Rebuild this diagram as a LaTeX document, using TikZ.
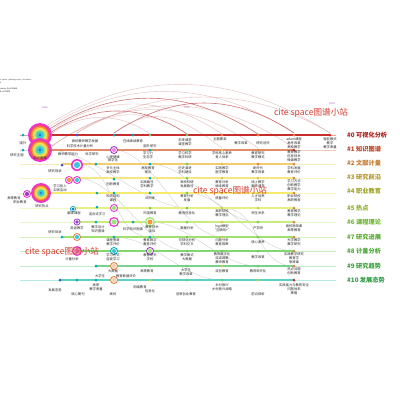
\documentclass[tikz,border=0pt]{standalone}
\usepackage{fontspec}
\newfontfamily\cjk{Noto Sans CJK SC}
\usetikzlibrary{calc}
\definecolor{c0}{RGB}{200,45,45}
\definecolor{c1}{RGB}{225,140,100}
\definecolor{c2}{RGB}{240,205,110}
\definecolor{c3}{RGB}{245,230,130}
\definecolor{c4}{RGB}{245,235,110}
\definecolor{c5}{RGB}{230,240,130}
\definecolor{c6}{RGB}{200,235,130}
\definecolor{c7}{RGB}{160,225,110}
\definecolor{c8}{RGB}{130,215,110}
\definecolor{c9}{RGB}{120,210,140}
\definecolor{c10}{RGB}{90,210,200}
\definecolor{t0}{RGB}{170,30,30}
\definecolor{t1}{RGB}{185,70,40}
\definecolor{t2}{RGB}{195,120,40}
\definecolor{t3}{RGB}{180,150,40}
\definecolor{t4}{RGB}{160,165,40}
\definecolor{t5}{RGB}{140,175,40}
\definecolor{t6}{RGB}{110,180,50}
\definecolor{t7}{RGB}{90,170,50}
\definecolor{t8}{RGB}{70,165,50}
\definecolor{t9}{RGB}{60,160,60}
\definecolor{t10}{RGB}{50,155,70}
\definecolor{yblue}{RGB}{70,80,210}
\definecolor{yteal}{RGB}{0,170,190}
\definecolor{ygreen}{RGB}{120,200,110}
\definecolor{yyel}{RGB}{215,200,80}
\definecolor{yorg}{RGB}{230,130,60}
\definecolor{yred}{RGB}{210,40,40}
\definecolor{ypur}{RGB}{160,60,200}
\definecolor{rM}{RGB}{235,50,210}
\definecolor{rR}{RGB}{240,80,100}
\definecolor{rO}{RGB}{250,150,60}
\definecolor{rY}{RGB}{250,220,80}
\definecolor{rG}{RGB}{150,230,120}
\definecolor{rC}{RGB}{60,200,220}
\definecolor{rB}{RGB}{30,120,200}
\definecolor{arcc}{RGB}{215,150,150}
\definecolor{arcd}{RGB}{185,60,60}
\definecolor{wmc}{RGB}{215,60,50}
\definecolor{yrc}{RGB}{170,80,200}
\tikzset{
 lbl/.style={font=\cjk\fontsize{3.3}{3.8}\selectfont, text=black!85, align=center, inner sep=0pt},
 rowlbl/.style={font=\cjk\bfseries\fontsize{6.2}{7}\selectfont, anchor=west, inner sep=0pt},
 dotn/.style={circle, inner sep=0pt, minimum size=3pt, draw=none},
 arcA/.style={line width=0.45pt, draw=arcc, opacity=0.6},
 arcB/.style={line width=0.6pt, draw=arcd, opacity=0.7},
 faint/.style={line width=0.4pt, draw=black!30, opacity=0.6},
 tline/.style={line width=1.3pt},
 wm/.style={font=\cjk\fontsize{8.6}{9}\selectfont, text=wmc, inner sep=0pt},
 yr/.style={font=\sffamily\fontsize{2.6}{3}\selectfont, text=yrc, inner sep=0pt},
 hdr/.style={font=\sffamily\fontsize{2.2}{2.6}\selectfont, text=black!70, anchor=west, inner sep=0pt},
}
\newcommand\dt[4]{\node[dotn,fill=#4] (#1) at (#2,#3) {};}
\newcommand\sring[6]{\coordinate (#1) at (#2,#3);
 \fill[#5] (#1) circle (#4); \fill[white] (#1) circle ({0.72*#4}); \fill[#6] (#1) circle ({0.52*#4});}
\newcommand\treering[4]{\coordinate (#1) at (#2,#3);
 \fill[rM] (#1) circle (#4); \fill[rR] (#1) circle ({0.84*#4});
 \fill[rO] (#1) circle ({0.72*#4}); \fill[rY] (#1) circle ({0.6*#4});
 \fill[rG] (#1) circle ({0.46*#4}); \fill[rC] (#1) circle ({0.32*#4});
 \fill[rB] (#1) circle ({0.12*#4});}
\newcommand\arcp[5]{\draw[#5] (#1) .. controls ($(#1)+(#3,-#4)$) and ($(#2)+(-#3,-#4)$) .. (#2);}
\newcommand\scurve[2]{\draw[faint] (#1) .. controls ($(#1)+(40,0)$) and ($(#2)+(-40,0)$) .. (#2);}
\begin{document}
\begin{tikzpicture}[x=1pt,y=-1pt]
\useasboundingbox (0,0) rectangle (400,400);
\fill[white] (0,0) rectangle (400,400);
% header
\node[hdr] (h1) at (0,80) {s space (photography) Academy};
\node[hdr] (h2) at (0,82.6) {0};
\node[hdr,font=\sffamily\bfseries\fontsize{2.2}{2.6}\selectfont] (h3) at (0,89) {rlarity Q=0.8669};
\node[hdr,font=\sffamily\bfseries\fontsize{2.2}{2.6}\selectfont] (h4) at (0,91.6) {S=0.9429};
% years
\node[yr] (y1) at (45,108) {2016};
\node[yr] (y2) at (187,108) {2020};
\node[yr] (y3) at (332,104) {2024};
% arc endpoints
\coordinate (a0) at (46,126); \coordinate (a1) at (47,128); \coordinate (a2) at (48,130);
\coordinate (a3) at (50,131); \coordinate (a4) at (50,133); \coordinate (a5) at (51,134);
\coordinate (a6) at (77,133); \coordinate (a7) at (114,133); \coordinate (a8) at (52,146);
\coordinate (e330) at (330,133); \coordinate (e294) at (294,133); \coordinate (e258) at (258,134);
\coordinate (e222) at (222,134); \coordinate (e187) at (187,134); \coordinate (e150) at (150,134);
\coordinate (e294b) at (294,148); \coordinate (e258b) at (258,148); \coordinate (e222b) at (222,148);
\arcp{a0}{e330}{95}{60}{arcA}
\arcp{a1}{e294}{80}{52}{arcA}
\arcp{a2}{e258}{70}{45}{arcB}
\arcp{a3}{e222}{55}{38}{arcA}
\arcp{a4}{e187}{45}{30}{arcB}
\arcp{a5}{e150}{30}{22}{arcA}
\arcp{a6}{e330}{80}{48}{arcA}
\arcp{a7}{e294}{60}{40}{arcB}
\arcp{a8}{e258b}{70}{50}{arcA}
\arcp{a8}{e294b}{80}{55}{arcA}
\arcp{a7}{e222b}{40}{30}{arcA}
\arcp{a6}{e187}{35}{25}{arcA}
% faint cross-row curves
\coordinate (f1) at (50,150); \coordinate (f2) at (187,208);
\coordinate (f3) at (114,150); \coordinate (f4) at (222,237);
\coordinate (f5) at (150,164); \coordinate (f6) at (258,222);
\coordinate (f7) at (77,178); \coordinate (f8) at (187,251);
\coordinate (f9) at (187,193); \coordinate (f10) at (294,251);
\coordinate (f11) at (150,222); \coordinate (f12) at (258,266);
\coordinate (f13) at (222,208); \coordinate (f14) at (294,266);
\coordinate (f15) at (114,237); \coordinate (f16) at (222,280);
\coordinate (f17) at (77,164); \coordinate (f18) at (150,237);
\scurve{f1}{f2}\scurve{f3}{f4}\scurve{f5}{f6}\scurve{f7}{f8}
\scurve{f9}{f10}\scurve{f11}{f12}\scurve{f13}{f14}\scurve{f15}{f16}\scurve{f17}{f18}
% timeline lines
\foreach \k/\y/\s/\e in {0/135/40/330,1/150/40/294,2/164/62/294,3/178/69/294,4/193/27/294,5/208/73/294,6/222/77/294,7/237/62/294,8/251/77/294,9/266/96/294,10/280/60/294}{
  \coordinate (Ls\k) at (\s,\y); \coordinate (Le\k) at (\e,\y);
  \coordinate (Lf\k) at (20,\y); \coordinate (Lg\k) at (336,\y);
  \draw[line width=0.8pt, c\k!45] (Lf\k) -- (Lg\k);
  \draw[tline, c\k] (Ls\k) -- (Le\k);
}
% row 0
\treering{n0}{40}{135}{12}
\dt{r0a}{23}{135}{yteal}\dt{r0b}{77}{135}{yblue}\dt{r0c}{114}{135}{yteal}\dt{r0d}{133}{135}{yteal}
\dt{r0e}{150}{135}{ygreen}\dt{r0f}{187}{135}{ygreen}\dt{r0g}{222}{135}{yorg}\dt{r0h}{258}{135}{yorg}
\dt{r0i}{294}{135}{yorg}\dt{r0j}{330}{135}{yred}
\node[lbl] at (23,143) {国外};
\node[lbl] at (85,141) {高校教师教学发展};
\node[lbl] at (133,141) {在线继续教育};
\node[lbl] at (185,142.5) {未来课堂\\课堂教学};
\node[lbl] at (220,139.5) {主题聚类};
\node[lbl] at (241,143) {教学改革};
\node[lbl] at (263,143) {研究述评};
\node[lbl] at (294,143.5) {adam课程\\高考改革\\高校教学};
\node[lbl] at (330,143.5) {智能模式\\教学\\教学质量};
% row 1
\treering{n1}{40}{150}{12}
\dt{r1a}{23}{150}{yteal}\sring{r1b}{114}{150}{4}{ypur}{rM!60}
\dt{r1c}{150}{150}{yteal}\dt{r1d}{187}{150}{ygreen}\dt{r1e}{222}{150}{yyel}
\dt{r1f}{258}{150}{yorg}\dt{r1g}{294}{150}{yred}
\node[lbl] at (80,146) {科学技术计量分析};
\node[lbl] at (150,146) {国外研究};
\node[lbl] at (17,155) {研究主题};
\node[lbl] at (40,158) {知识图谱};
\node[lbl] at (68,154) {教师教学能力};
\node[lbl] at (92,154) {科学研究};
\node[lbl] at (113,157) {心理健康};
\node[lbl] at (148,155) {学习力\\生态学};
\node[lbl] at (185,155) {学习科学\\教学科研};
\node[lbl] at (222,155) {学科核心素养\\育人体系};
\node[lbl] at (258,155) {教育研究\\教学模式};
\node[lbl] at (294,156) {教育教学\\信息技术\\微课教学};
% row 2
\sring{n2}{77}{165}{6}{rM}{rC}
\dt{r2a}{62}{165}{yblue}\dt{r2b}{96}{164}{yteal}\dt{r2c}{150}{164}{yteal}\dt{r2d}{187}{164}{ygreen}
\dt{r2e}{222}{164}{yyel}\dt{r2f}{258}{164}{yorg}\dt{r2g}{294}{164}{yorg}
\node[lbl] at (113,160) {数字化};
\node[lbl] at (55,171) {研究现状};
\node[lbl] at (113,170) {多元主体\\高校教学};
\node[lbl] at (148,170) {高校教育\\理论};
\node[lbl] at (185,170) {历史演进\\学科建设};
\node[lbl] at (222,170) {实践教学\\医学教育};
\node[lbl] at (258,170) {新时代\\教学改革};
\node[lbl] at (294,170) {学科发展\\教育评价};
% row 3
\sring{n3a}{69}{180}{4}{rM}{rO}\sring{n3b}{77}{180}{4}{rM}{rC}
\dt{r3a}{114}{179}{yteal}\dt{r3b}{150}{178}{yteal}\dt{r3c}{187}{178}{ygreen}
\dt{r3d}{222}{178}{yyel}\dt{r3e}{258}{178}{yyel}\dt{r3f}{294}{178}{yorg}
\node[lbl] at (60,188) {学习投入\\实践活动};
\node[lbl] at (113,184) {创新教育};
\node[lbl] at (147,184) {实践路径\\学科教学};
\node[lbl] at (187,184) {高校科研\\发展路径};
\node[lbl] at (222,184) {教育分析\\继续教育};
\node[lbl] at (258,184) {线上教学\\翻转课堂};
\node[lbl] at (294,185) {学习方式\\创新教学\\教学能力};
% row 4
\treering{n4}{41}{193}{10}\sring{n4b}{27}{194}{4}{rM}{ypur}
\dt{r4a}{97}{193}{yteal}\dt{r4b}{114}{193}{yteal}\dt{r4c}{150}{193}{yteal}
\dt{r4d}{187}{193}{ygreen}\dt{r4e}{222}{193}{yyel}\dt{r4f}{258}{193}{yyel}\dt{r4g}{294}{193}{yorg}
\node[lbl] at (14,198) {高等教育};
\node[lbl] at (20,202) {职业教育};
\node[lbl] at (42,206) {研究热点};
\node[lbl] at (113,198) {知识结构\\课程};
\node[lbl] at (150,198) {共同体};
\node[lbl] at (187,198) {教育分析\\发展};
\node[lbl] at (222,198) {质量评价};
\node[lbl] at (258,198) {人才培养\\学科};
\node[lbl] at (294,198) {职业院校\\高职教育};
% row 5
\sring{n5a}{73}{209}{3}{yteal}{rB}\dt{r5a}{97}{207}{yteal}\sring{n5b}{114}{208}{4}{rM}{rG}
\dt{r5b}{150}{208}{ygreen}\dt{r5c}{187}{208}{ygreen}\dt{r5d}{222}{208}{yyel}
\dt{r5e}{258}{208}{yyel}\dt{r5f}{294}{208}{yorg}
\node[lbl] at (74,213.5) {翻译课程};
\node[lbl] at (97,214) {混合式学习};
\node[lbl] at (150,213) {外国教育};
\node[lbl] at (187,213) {教育信息化};
\node[lbl] at (222,213.5) {高职院校\\教学理念};
\node[lbl] at (258,213) {师生关系};
\node[lbl] at (294,213.5) {教育教学\\教学理论};
% row 6
\sring{n6a}{77}{222}{3.5}{ypur}{ypur}\sring{n6b}{114}{222}{5}{rM}{rG}\sring{n6c}{150}{222}{5}{rG}{rO}
\dt{r6a}{96}{222}{yteal}\dt{r6b}{133}{222}{yteal}\dt{r6c}{187}{222}{ygreen}
\dt{r6d}{222}{222}{yyel}\dt{r6e}{258}{222}{ygreen}\dt{r6f}{294}{222}{yorg}
\node[lbl] at (77,228) {英语教学};
\node[lbl] at (98,229) {教学设计\\知识图谱};
\node[lbl] at (133,229) {科学知识图谱};
\node[lbl] at (152,229) {教育技术\\国际};
\node[lbl] at (187,228) {数据分析};
\node[lbl] at (222,228.5) {logit模型\\“互联网+”};
\node[lbl] at (258,228) {产学研};
\node[lbl] at (294,228.5) {高校思政课\\高等教育};
% row 7
\sring{n7}{77}{237}{4}{yorg}{rC}\dt{r7a}{62}{237}{yteal}\dt{r7b}{114}{237}{yteal}
\dt{r7c}{150}{237}{yteal}\dt{r7d}{187}{237}{ygreen}\dt{r7e}{222}{237}{yyel}
\dt{r7f}{258}{237}{ygreen}\dt{r7g}{294}{237}{yorg}
\node[lbl] at (55,232) {研究现状};
\node[lbl] at (113,242.5) {课程思政\\教学评价};
\node[lbl] at (150,242.5) {教育数字\\教育评价};
\node[lbl] at (187,242.5) {可视化分析\\学科交叉};
\node[lbl] at (222,242.5) {问题分析\\教育政策};
\node[lbl] at (258,242) {核心素养};
\node[lbl] at (294,242.5) {光学教学\\教学研究};
% row 8
\sring{n8a}{77}{251}{5}{rM}{rM!60}\sring{n8b}{114}{251}{4}{yteal}{rC}\sring{n8c}{150}{251}{4}{ypur}{rG}
\dt{r8a}{187}{251}{ygreen}\dt{r8b}{222}{251}{ygreen}\dt{r8c}{258}{251}{ygreen}\dt{r8d}{294}{251}{yorg}
\node[lbl] at (72,259) {计量分析};
\node[lbl] at (113,257.5) {学习方式\\自我学习};
\node[lbl] at (150,257.5) {教育研究\\学校};
\node[lbl] at (187,257.5) {教学模式\\大数据};
\node[lbl] at (222,258.5) {教育数字化\\双减政策\\教师教育};
\node[lbl] at (258,257) {教学改革};
\node[lbl] at (294,258.5) {实践教学研究\\教育学\\思政课};
% row 9
\dt{r9a}{96}{266}{yteal}\sring{n9}{114}{266}{4}{yorg}{yorg!40}\dt{r9b}{150}{266}{ygreen}
\dt{r9c}{187}{266}{ygreen}\dt{r9d}{222}{266}{yyel}\dt{r9e}{258}{266}{ygreen}\dt{r9f}{294}{266}{yorg}
\node[lbl] at (113,271) {大数据};
\node[lbl] at (147,271) {高等教育};
\node[lbl] at (186,272) {大学生\\教学改革};
\node[lbl] at (222,271) {双创教育};
\node[lbl] at (258,271) {教育现代化};
\node[lbl] at (294,271.5) {热点问题\\创新教育};
% row 10
\dt{r10a}{60}{280}{yblue}\dt{r10b}{77}{280}{yteal}\dt{r10c}{96}{280}{yteal}\sring{n10}{114}{280}{4}{yorg}{yorg!40}
\dt{r10d}{150}{280}{yyel}\dt{r10e}{187}{280}{ygreen}\dt{r10f}{222}{280}{ygreen}
\dt{r10g}{258}{280}{yyel}\dt{r10h}{294}{280}{yred}
\node[lbl] at (100,276) {大学生};
\node[lbl] at (126,276) {教育数据评价};
\node[lbl] at (55,290) {发展态势};
\node[lbl] at (78,294) {核心期刊};
\node[lbl] at (96,287.5) {高职\\教学质量};
\node[lbl] at (113,294) {高校};
\node[lbl] at (140,287) {网络教育};
\node[lbl] at (150,291) {信息化};
\node[lbl] at (186,294) {创新创业教育};
\node[lbl] at (222,287.5) {乡村振兴\\乡村振兴战略};
\node[lbl] at (258,294) {前沿探析};
\node[lbl] at (294,289) {实践能力与教育安全\\问题体系\\策略};
% row labels
\node[rowlbl,text=t0] (k0) at (347,135) {\#0 可视化分析};
\node[rowlbl,text=t1] (k1) at (347,149) {\#1 知识图谱};
\node[rowlbl,text=t2] (k2) at (347,163) {\#2 文献计量};
\node[rowlbl,text=t3] (k3) at (347,177) {\#3 研究前沿};
\node[rowlbl,text=t4] (k4) at (347,191.5) {\#4 职业教育};
\node[rowlbl,text=t5] (k5) at (347,208) {\#5 热点};
\node[rowlbl,text=t6] (k6) at (347,222) {\#6 课程理论};
\node[rowlbl,text=t7] (k7) at (347,237) {\#7 研究进展};
\node[rowlbl,text=t8] (k8) at (347,251) {\#8 计量分析};
\node[rowlbl,text=t9] (k9) at (347,266) {\#9 研究趋势};
\node[rowlbl,text=t10] (k10) at (347,280) {\#10 发展态势};
% watermarks
\node[wm] (wm1) at (311,113) {cite space图谱小站};
\node[wm] (wm2) at (230,191) {cite space图谱小站};
\node[wm] (wm3) at (62,252) {cite space图谱小站};
\end{tikzpicture}
\end{document}
